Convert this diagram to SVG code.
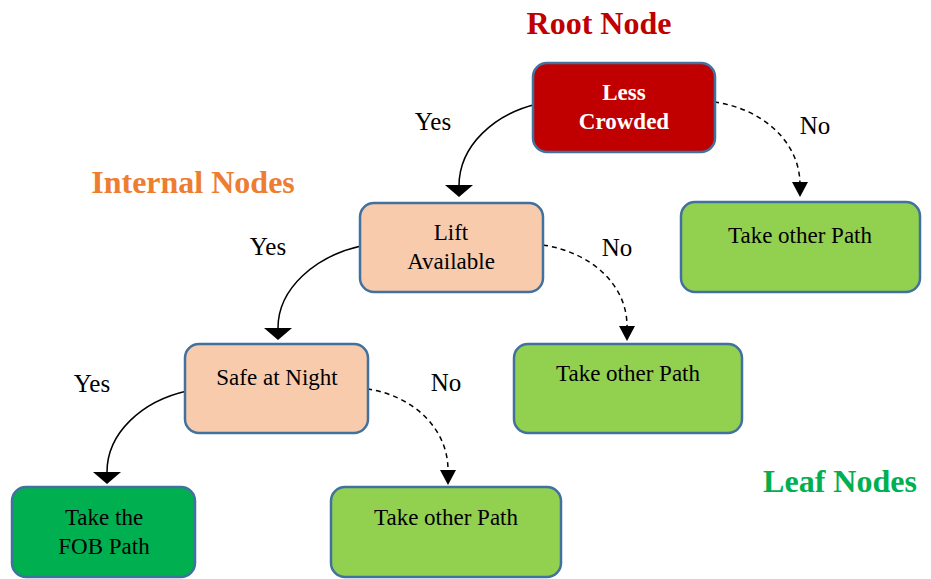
<svg xmlns="http://www.w3.org/2000/svg" width="931" height="579" viewBox="0 0 931 579">
<defs>
<style>
.box{stroke:#41719C;stroke-width:2.5}
.t{font-family:"Liberation Serif","Times New Roman",serif;font-size:23px;fill:#000;text-anchor:middle}
.lbl{font-family:"Liberation Serif","Times New Roman",serif;font-size:25px;fill:#000;text-anchor:middle}
.hd{font-family:"Liberation Serif","Times New Roman",serif;font-size:32px;font-weight:bold;text-anchor:middle}
.yes{fill:none;stroke:#000;stroke-width:1.5}
.no{fill:none;stroke:#000;stroke-width:1.5;stroke-dasharray:5 4}
</style>
</defs>
<rect width="931" height="579" fill="#fff"/>
<text class="hd" x="599" y="34" fill="#C00000">Root Node</text>
<text class="hd" x="193" y="193" fill="#ED7D31">Internal Nodes</text>
<text class="hd" x="840" y="492" fill="#00B050">Leaf Nodes</text>

<g id="connectors">
<path class="yes" d="M537,104 C495,114 459,145 459,186"/>
<polygon points="445,185 473,185 459,197" fill="#000"/>
<path class="no" d="M714,102 C760,108 800,140 800,185"/>
<polygon points="792,182 808,182 800,197" fill="#000"/>
<path class="yes" d="M361,246 C316,256 278,288 278,328"/>
<polygon points="264,328 292,328 278,340" fill="#000"/>
<path class="no" d="M543,245 C590,252 627,284 627,326"/>
<polygon points="619,326 635,326 627,341" fill="#000"/>
<path class="yes" d="M187,391 C142,401 107,433 107,472"/>
<polygon points="93,472 121,472 107,484" fill="#000"/>
<path class="no" d="M367,389 C412,395 448,428 448,470"/>
<polygon points="440,470 456,470 448,485" fill="#000"/>
<text class="lbl" x="433" y="130">Yes</text>
<text class="lbl" x="815" y="134">No</text>
<text class="lbl" x="268" y="255">Yes</text>
<text class="lbl" x="617" y="256">No</text>
<text class="lbl" x="92" y="392">Yes</text>
<text class="lbl" x="446" y="391">No</text>
</g>

<g id="root">
<rect class="box" x="533" y="63" width="182" height="89" rx="14" fill="#C00000"/>
<text class="t" x="624" y="100" style="fill:#fff;font-weight:bold">Less</text>
<text class="t" x="624" y="129" style="fill:#fff;font-weight:bold">Crowded</text>
</g>
<g id="lift">
<rect class="box" x="360" y="203" width="183" height="89" rx="14" fill="#F8CBAD"/>
<text class="t" x="451" y="240">Lift</text>
<text class="t" x="451" y="269">Available</text>
</g>
<g id="other1">
<rect class="box" x="681" y="202" width="239" height="90" rx="14" fill="#92D050"/>
<text class="t" x="800" y="243">Take other Path</text>
</g>
<g id="safe">
<rect class="box" x="185" y="344" width="183" height="89" rx="14" fill="#F8CBAD"/>
<text class="t" x="277" y="385">Safe at Night</text>
</g>
<g id="other2">
<rect class="box" x="514" y="344" width="228" height="89" rx="14" fill="#92D050"/>
<text class="t" x="628" y="381">Take other Path</text>
</g>
<g id="fob">
<rect class="box" x="12" y="487" width="183" height="90" rx="14" fill="#00B050"/>
<text class="t" x="104" y="525">Take the</text>
<text class="t" x="104" y="554">FOB Path</text>
</g>
<g id="other3">
<rect class="box" x="331" y="487" width="230" height="90" rx="14" fill="#92D050"/>
<text class="t" x="446" y="525">Take other Path</text>
</g>
</svg>
